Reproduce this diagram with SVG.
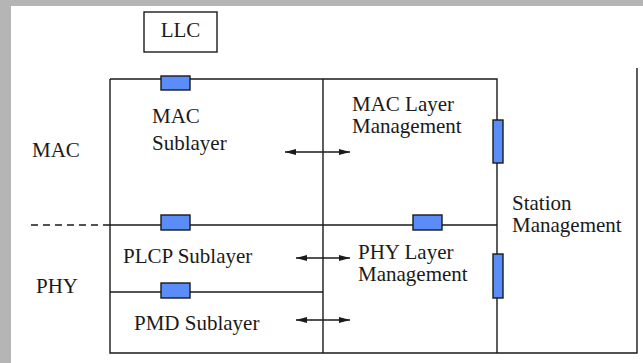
<svg xmlns="http://www.w3.org/2000/svg" width="643" height="363" viewBox="0 0 643 363">
<style>
.ln{stroke:#1a1a1a;stroke-width:1.4;fill:none}
.port{fill:#5b8df8;stroke:#1a1a1a;stroke-width:1.4}
.t{font-family:'Liberation Serif','Tinos','DejaVu Serif',serif;font-size:21px;fill:#1a1a1a}
.bg{fill:#b5b5b5}
</style>
<defs>
<marker id="ah" markerWidth="12" markerHeight="8" refX="11" refY="4" orient="auto-start-reverse" markerUnits="userSpaceOnUse">
<path d="M0,1 L11,4 L0,7 Z" fill="#1a1a1a"/>
</marker>
</defs>
<rect width="643" height="363" fill="#ffffff"/>
<g id="watermark">
<rect class="bg" x="0" y="0" width="643" height="6"/>
<rect class="bg" x="0" y="0" width="11" height="363"/>
</g>
<g id="llc">
<rect class="ln" x="144" y="12" width="73" height="40"/>
<text class="t" x="180.5" y="37" text-anchor="middle">LLC</text>
</g>
<g id="frame">
<path class="ln" d="M110,79 H497 V353 M110,79 V353 H637 V68 M323,79 V353 M110,225 H497 M110,292 H323"/>
<path class="ln" d="M31,225 H110" stroke-dasharray="7,5"/>
</g>
<g id="mac-label"><text class="t" x="32" y="157">MAC</text></g>
<g id="phy-label"><text class="t" x="36" y="293">PHY</text></g>
<g id="mac-sublayer">
<rect class="port" x="161" y="76" width="29" height="14"/>
<text class="t" x="152" y="123">MAC</text>
<text class="t" x="152" y="150">Sublayer</text>
</g>
<g id="mac-layer-mgmt">
<rect class="port" x="493" y="120" width="10" height="43"/>
<text class="t" x="352" y="111">MAC Layer</text>
<text class="t" x="352" y="133">Management</text>
</g>
<g id="plcp-sublayer">
<rect class="port" x="161" y="215" width="29" height="15"/>
<text class="t" x="123" y="263">PLCP Sublayer</text>
</g>
<g id="pmd-sublayer">
<rect class="port" x="161" y="283" width="29" height="15"/>
<text class="t" x="134" y="330">PMD Sublayer</text>
</g>
<g id="phy-layer-mgmt">
<rect class="port" x="413" y="215" width="29" height="15"/>
<rect class="port" x="493" y="254" width="10" height="44"/>
<text class="t" x="358" y="259">PHY Layer</text>
<text class="t" x="358" y="281">Management</text>
</g>
<g id="station-mgmt">
<text class="t" x="512" y="210">Station</text>
<text class="t" x="512" y="232">Management</text>
</g>
<g id="connectors">
<line class="ln" x1="285" y1="152" x2="350" y2="152" marker-start="url(#ah)" marker-end="url(#ah)"/>
<line class="ln" x1="296" y1="258" x2="350" y2="258" marker-start="url(#ah)" marker-end="url(#ah)"/>
<line class="ln" x1="296" y1="320" x2="350" y2="320" marker-start="url(#ah)" marker-end="url(#ah)"/>
</g>
</svg>
